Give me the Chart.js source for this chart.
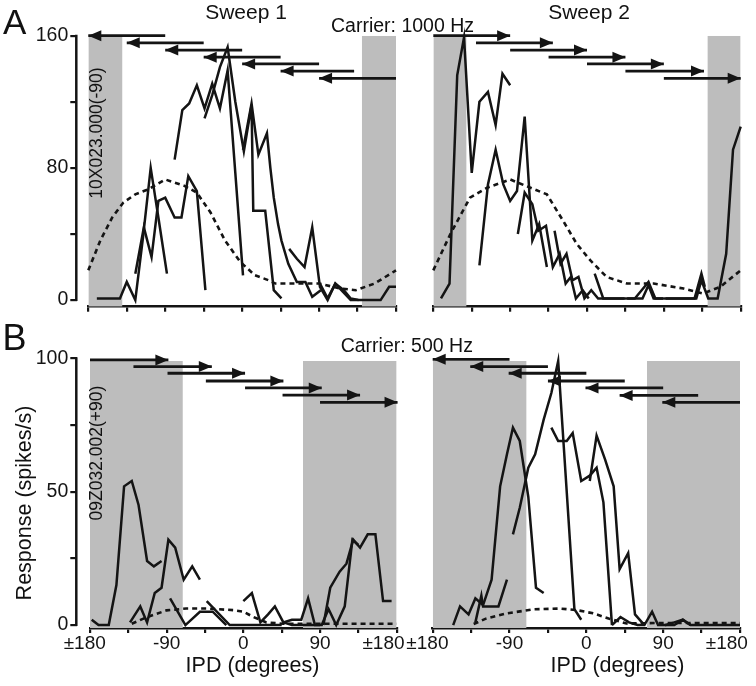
<!DOCTYPE html>
<html><head><meta charset="utf-8">
<script src="https://cdn.jsdelivr.net/npm/chart.js@4.4.1/dist/chart.umd.min.js"></script>
<style>
html,body{margin:0;padding:0;background:#fff;width:756px;height:686px;overflow:hidden;position:relative;font-family:"Liberation Sans",Arial,Helvetica,sans-serif;color:#111}
canvas{position:absolute;left:0;top:0}
.t{position:absolute;white-space:nowrap;line-height:1}
.c{transform:translateX(-50%)}
.v{position:absolute;white-space:nowrap;line-height:1;transform:translate(-50%,-50%) rotate(-90deg)}
</style></head><body>
<canvas id="cA1" width="900" height="686"></canvas>
<canvas id="cA2" width="900" height="686"></canvas>
<canvas id="cB1" width="900" height="686"></canvas>
<canvas id="cB2" width="900" height="686"></canvas>

<div class="t" style="left:3px;top:3.7px;font-size:35px">A</div>
<div class="t" style="left:2.4px;top:320.4px;font-size:36px">B</div>
<div class="t c" style="left:246px;top:1.3px;font-size:21px">Sweep 1</div>
<div class="t c" style="left:589px;top:1.3px;font-size:21px">Sweep 2</div>
<div class="t" style="left:331px;top:15.8px;font-size:19.5px">Carrier: 1000 Hz</div>
<div class="t" style="left:340.7px;top:335.8px;font-size:19.5px">Carrier: 500 Hz</div>
<div class="t c" style="left:252.5px;top:655.2px;font-size:21.5px">IPD (degrees)</div>
<div class="t c" style="left:617.5px;top:655.2px;font-size:21.5px">IPD (degrees)</div>
<div class="v" style="left:24.9px;top:503.3px;font-size:21.5px">Response (spikes/s)</div>
<div class="v" style="left:97.2px;top:133.3px;font-size:17.5px">10X023.000(-90)</div>
<div class="v" style="left:97.2px;top:453.3px;font-size:17.5px">09Z032.002(+90)</div>

<script>
// ================= DATA =================
const xTickValues  = [-180,-135,-90,-45,0,45,90,135,180];
const xLabelValues = [-180,-90,0,90,180];
const xLabelTexts  = ['±180','-90','0','90','±180'];
const yTicksA  = [0,40,80,120,160];
const yLabelsA = [0,80,160];
const yTicksB  = [0,25,50,75,100];
const yLabelsB = [0,50,100];

// Panel A, carrier 1000 Hz, sweep 1  ([IPD deg, spikes/s])
const a1Seg1 = [[-170,1],[-161,1],[-152,1],[-143,1],[-135,11],[-125,0],[-116,38],[-107,80],[-98,50],[-88,16]];
const a1Seg2 = [[-125,16],[-115,44],[-106,26],[-98,60],[-90,62],[-79,50],[-71,50],[-63,75],[-53,66],[-43,6]];
const a1Seg3 = [[-79,85],[-70,115],[-62,119],[-53,130],[-44,116],[-35,131],[-26,116],[-17,139],[-8,77],[1,15]];
const a1Seg4 = [[-44,110],[-35,124],[-26,141],[-17,153],[-8,120],[2,90],[11,118],[13,54],[27,54],[37,6],[46,1]];
const a1Seg5 = [[1,91],[11,119],[19,88],[29,101],[33,80],[37,62],[42,46],[46,36],[54,22],[64,11],[74,11],[82,2],[92,6]];
const a1Seg6 = [[55,31],[64,25],[73,20],[82,44],[91,8],[100,0],[109,10],[118,5],[127,0],[136,0]];
const a1Seg7 = [[91,10],[100,1],[109,10],[119,6],[127,1],[136,0],[145,0],[154,0],[162,0],[172,8],[180,8]];
const a1Static = [[-180,18],[-166,36],[-152,50],[-139,59],[-125,64],[-110,67],[-90,73],[-67,69],[-53,65],[-37,53],[-20,36],[-2,23],[15,15],[31,12],[39,10],[90,10],[115,7],[133,6],[155,10],[180,18]];
const a1Arrows = [[-90,-180,160],[-45,-135,155.7],[0,-90,151.3],[45,-45,147],[90,0,142.9],[131,45,138.6],[180,90,134.2]];
const a1Shades = [[-180,-140],[140,180]];

// Panel A, carrier 1000 Hz, sweep 2
const a2Seg1 = [[-171,1],[-161,10],[-152,136],[-144,159],[-135,77],[-126,120],[-116,126],[-107,106],[-99,137],[-90,130]];
const a2Seg2 = [[-126,21],[-116,70],[-107,91],[-98,70],[-90,60],[-82,66],[-73,111],[-64,36],[-56,46],[-47,20]];
const a2Seg3 = [[-81,40],[-73,65],[-64,58],[-57,42],[-48,45],[-40,20],[-32,28],[-25,10],[-19,14],[-13,1],[-5,6],[2,1]];
const a2Seg4 = [[-38,42],[-31,22],[-24,28],[-17,12],[-10,14],[-3,1],[5,6],[13,1],[24,1],[34,1],[44,1]];
const a2Seg5 = [[9,16],[19,1],[28,1],[37,1],[46,1],[56,1],[64,6],[72,11],[80,1],[89,1]];
const a2Seg6 = [[47,1],[56,1],[65,1],[72,9],[78,1],[88,1],[98,1],[108,1],[118,1],[126,1],[134,16],[138,8]];
const a2Seg7 = [[92,1],[102,1],[112,1],[122,1],[128,1],[134,12],[142,1],[153,1],[163,28],[171,91],[180,105]];
const a2Static = [[-180,18],[-160,40],[-137,62],[-117,68],[-90,73],[-71,69],[-47,64],[-28,48],[-12,34],[4,24],[23,14],[47,10],[78,10],[113,7],[136,4],[156,8],[180,18]];
const a2Arrows = [[-180,-90,160],[-130,-40,155.7],[-90,0,151.3],[-45,45,147],[0,90,142.9],[45,137,138.6],[90,180,134.2]];
const a2Shades = [[-180,-141],[141,180]];

// Panel B, carrier 500 Hz, sweep 1
const b1Seg1 = [[-178,2],[-170,0],[-158,0],[-149,15],[-140,52],[-131,54],[-123,45],[-113,24],[-105,22],[-96,24]];
const b1Seg2 = [[-133,1],[-121,7],[-113,1],[-104,12],[-96,14],[-88,32],[-80,29],[-70,17],[-60,22],[-51,17]];
const b1Seg3 = [[-86,10],[-68,0],[-51,5],[-36,5],[-20,0]];
const b1Seg4 = [[-43,9],[-16,0],[0,0],[20,0],[45,0]];
const b1Seg5 = [[0,9],[10,12],[20,1],[29,4],[37,7],[47,1],[57,2],[68,2],[76,10],[84,0],[90,0]];
const b1Seg6 = [[47,1],[57,0],[68,0],[84,0],[92,0],[100,6],[109,0],[119,7],[128,32],[135,30]];
const b1Seg7 = [[94,0],[102,14],[113,20],[121,23],[129,32],[137,29],[146,34],[155,34],[164,9],[174,9]];
const b1Static = [[-131,0.5],[-113,3],[-90,5.5],[-67,6.2],[-43,6.2],[-12,5.6],[0,5],[12,3],[27,1],[47,0.5],[180,0.5]];
const b1Arrows = [[-180,-88,99.4],[-129,-37,96.9],[-89,2,94.4],[-44,47,91.5],[2,92,88.9],[46,137,86.2],[90,181,83.5]];
const b1Shades = [[-180,-71],[70,180]];

// Panel B, carrier 500 Hz, sweep 2
const b2Seg1 = [[-156,0],[-148,7],[-138,4],[-130,10],[-121,7.5],[-111,17],[-101,52],[-93,64],[-86,74],[-78,69],[-68,48],[-59,14],[-50,12]];
const b2Seg2 = [[-130,1],[-123,11],[-121,7],[-103,7],[-93,17]];
const b2Seg3 = [[-86,34],[-78,44],[-68,59],[-60,64],[-50,77],[-41,87],[-33,99],[-14,6],[-6,2]];
const b2Seg4 = [[-41,74],[-33,69],[-23,69],[-16,72],[-6,54],[4,56],[12,59],[20,46],[30,0]];
const b2Seg5 = [[4,54],[12,71],[22,62],[32,52],[39,21],[49,27],[57,4],[68,0]];
const b2Seg6 = [[30,0],[40,3],[50,1],[60,0],[68,0],[77,5],[84,0],[93,0],[103,1],[113,2],[122,0]];
const b2Seg7 = [[92,0],[103,0],[113,2],[122,0],[135,0],[150,0],[165,0],[180,0]];
const b2Static = [[-132,0.4],[-117,2.5],[-93,4.4],[-62,5.9],[-31,6.2],[-11,5.6],[8,4.4],[26,2.5],[47,0.6],[90,0.8],[180,0.8]];
const b2Arrows = [[-90,-180,99.6],[-45,-136,96.9],[0,-91,94.4],[45,-45,91.5],[90,-1,88.9],[131,39,86.1],[180,89,83.5]];
const b2Shades = [[-180,-70],[71,180]];

// ================= RENDERING =================
const FONT = '"Liberation Sans", Arial, Helvetica, sans-serif';
Chart.defaults.font.family = FONT;
Chart.defaults.color = '#111';
const INK = '#141414';
const SHADE = '#bdbdbd';
const pts = arr => arr.map(([x,y]) => ({x, y}));

const framePlugin = {
  id: 'frame',
  afterDatasetsDraw(chart) {
    const ctx = chart.ctx;
    ctx.save();
    chart.data.datasets.forEach((ds, i) => {
      if (!ds.arrowHead) return;
      const d = chart.getDatasetMeta(i).data;
      const p1 = d[d.length - 1], p0 = d[0];
      const a = Math.atan2(p1.y - p0.y, p1.x - p0.x);
      const L = 13, W = 5.5;
      const bx = p1.x - L * Math.cos(a), by = p1.y - L * Math.sin(a);
      ctx.beginPath();
      ctx.moveTo(p1.x, p1.y);
      ctx.lineTo(bx + W * Math.sin(a), by - W * Math.cos(a));
      ctx.lineTo(bx - W * Math.sin(a), by + W * Math.cos(a));
      ctx.closePath();
      ctx.fillStyle = INK;
      ctx.fill();
    });
    ctx.restore();
  },
  afterDraw(chart, args, opts) {
    if (!opts.yLine) return;
    const ys = chart.scales.y, ctx = chart.ctx;
    ctx.save();
    ctx.strokeStyle = INK; ctx.lineWidth = 2.5;
    ctx.beginPath();
    ctx.moveTo(ys.right - 1, ys.getPixelForValue(ys.max) - 1);
    ctx.lineTo(ys.right - 1, ys.getPixelForValue(0) + 1);
    ctx.stroke();
    ctx.restore();
  }
};

function panel(id, p) {
  const CW = 900, CH = 686;
  const yW = 45;
  const hx = p.xLabels ? 40 : 10;
  const datasets = [];
  p.shades.forEach(([a, b]) => datasets.push({
    data: pts([[a, p.shadeTop], [b, p.shadeTop]]), fill: 'start', backgroundColor: SHADE,
    borderWidth: 0, pointRadius: 0, order: 10
  }));
  datasets.push({ data: pts(p.stat), borderColor: INK, borderWidth: 2.6, borderDash: [5, 4],
    pointRadius: 0, fill: false, order: 5, clip: false });
  p.segs.forEach(s => datasets.push({ data: pts(s), borderColor: INK, borderWidth: 2.5,
    pointRadius: 0, fill: false, order: 3, clip: false, borderJoinStyle: 'miter' }));
  p.arrows.forEach(([x0, x1, y]) => datasets.push({ data: pts([[x0, y], [x1, y]]), borderColor: INK,
    borderWidth: 2.8, pointRadius: 0, fill: false, order: 1, clip: false, arrowHead: true }));

  const scales = {
    x: {
      type: 'linear', position: 'bottom', min: -180, max: 180,
      afterBuildTicks: s => { s.ticks = xTickValues.map(v => ({ value: v })); },
      afterFit: s => { s.height = hx; },
      border: { display: true, color: INK, width: 2.5 },
      grid: { display: true, drawOnChartArea: false, drawTicks: true, tickLength: 5, color: INK, lineWidth: 2.2 },
      ticks: {
        display: !!p.xLabels, autoSkip: false, maxRotation: 0, minRotation: 0, padding: -1,
        color: INK, font: { size: 19, family: FONT },
        callback: v => {
          const k = xLabelValues.indexOf(v);
          if (k < 0) return '';
          let s = xLabelTexts[k];
          if (k === 0) s += '  ';
          if (k === xLabelValues.length - 1) s += '     ';
          return s;
        }
      }
    },
    y: {
      type: 'linear', position: 'left', weight: 1, min: p.yMin, max: p.yMax, display: p.showY,
      afterBuildTicks: s => { s.ticks = p.yTicks.map(v => ({ value: v })); },
      afterFit: s => { if (p.showY) s.width = yW; else s.width = 0; },
      border: { display: false },
      grid: { display: true, drawOnChartArea: false, drawTicks: true, tickLength: 7, color: INK, lineWidth: 2.2 },
      ticks: { padding: 2, color: INK, font: { size: 19.5, family: FONT },
        callback: v => p.yLabels.includes(v) ? String(v) : '' }
    }
  };
  let padLeft = p.area.left;
  if (p.showY) {
    const gap = p.area.left - p.axisX;
    scales.yGap = {
      type: 'linear', position: 'left', weight: 0, min: 0, max: 1, display: true,
      grid: { display: false }, border: { display: false }, ticks: { display: false },
      afterFit: s => { s.width = gap; }
    };
    padLeft = p.axisX - yW;
  }
  new Chart(document.getElementById(id), {
    type: 'line',
    data: { datasets },
    options: {
      responsive: false, animation: false, devicePixelRatio: 1, events: [],
      layout: { padding: { left: padLeft, top: p.area.top, right: CW - p.area.right, bottom: CH - p.area.bottom - hx } },
      plugins: { legend: { display: false }, tooltip: { enabled: false }, frame: { yLine: p.showY } },
      scales
    },
    plugins: [framePlugin]
  });
}

panel('cA1', { area: { left: 88.3, right: 396, top: 35.7, bottom: 306.7 }, axisX: 77.3, showY: true,
  yMin: -4, yMax: 160, yTicks: yTicksA, yLabels: yLabelsA, xLabels: false,
  shades: a1Shades, shadeTop: 160, stat: a1Static,
  segs: [a1Seg1, a1Seg2, a1Seg3, a1Seg4, a1Seg5, a1Seg6, a1Seg7], arrows: a1Arrows });
panel('cA2', { area: { left: 433.3, right: 740.7, top: 35.7, bottom: 306.7 }, showY: false,
  yMin: -4, yMax: 160, yTicks: yTicksA, yLabels: yLabelsA, xLabels: false,
  shades: a2Shades, shadeTop: 160, stat: a2Static,
  segs: [a2Seg1, a2Seg2, a2Seg3, a2Seg4, a2Seg5, a2Seg6, a2Seg7], arrows: a2Arrows });
panel('cB1', { area: { left: 90, right: 396.7, top: 358.3, bottom: 628 }, axisX: 77.3, showY: true,
  yMin: -1.1, yMax: 100, yTicks: yTicksB, yLabels: yLabelsB, xLabels: true,
  shades: b1Shades, shadeTop: 99, stat: b1Static,
  segs: [b1Seg1, b1Seg2, b1Seg3, b1Seg4, b1Seg5, b1Seg6, b1Seg7], arrows: b1Arrows });
panel('cB2', { area: { left: 432.7, right: 740, top: 358.3, bottom: 628 }, showY: false,
  yMin: -1.1, yMax: 100, yTicks: yTicksB, yLabels: yLabelsB, xLabels: true,
  shades: b2Shades, shadeTop: 99, stat: b2Static,
  segs: [b2Seg1, b2Seg2, b2Seg3, b2Seg4, b2Seg5, b2Seg6, b2Seg7], arrows: b2Arrows });
</script>
</body></html>
